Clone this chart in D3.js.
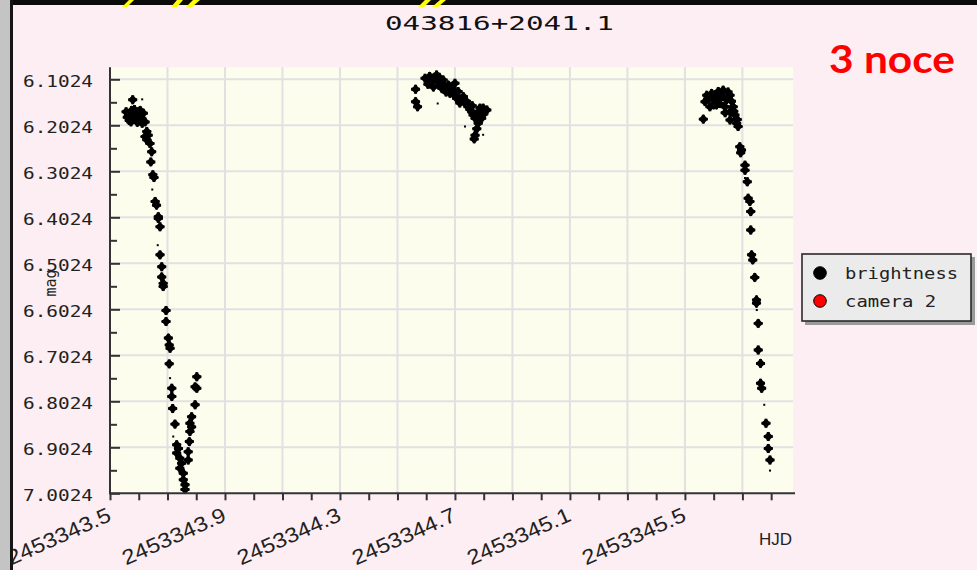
<!DOCTYPE html>
<html><head><meta charset="utf-8">
<script src="https://cdn.jsdelivr.net/npm/d3@7"></script>
<style>html,body{margin:0;padding:0;background:#fdeef3;overflow:hidden}</style>
</head><body><svg id="c" width="977" height="570"></svg>
<script>
// ---------- data ----------
const chartTitle = "043816+2041.1";
const slideNote = "3 noce";
const seriesNames = ["brightness", "camera 2"];
const seriesColors = ["#000000", "#ff0000"];
const xLabel = "HJD";
const yLabel = "mag";
const xTickLabels = ["2453343.5", "2453343.9", "2453344.3", "2453344.7", "2453345.1", "2453345.5"];
const yTickLabels = ["6.1024", "6.2024", "6.3024", "6.4024", "6.5024", "6.6024", "6.7024", "6.8024", "6.9024", "7.0024"];
const xDomain = [2453343.5, 2453345.876];
const yDomain = [6.0763, 7.0024];

// night 1 [HJD, mag]
const night1 = [[2453343.579,6.147],[2453343.564,6.180],[2453343.581,6.176],[2453343.598,6.173],[2453343.616,6.176],
[2453343.570,6.187],[2453343.593,6.187],[2453343.610,6.187],[2453343.587,6.182],[2453343.622,6.195],[2453343.556,6.173],
[2453343.604,6.193],[2453343.573,6.195],[2453343.560,6.185],[2453343.575,6.170],[2453343.585,6.168],[2453343.600,6.181],
[2453343.567,6.192],[2453343.590,6.175],[2453343.605,6.170],[2453343.612,6.198],[2453343.595,6.196],[2453343.580,6.190],
[2453343.628,6.216],[2453343.633,6.224],[2453343.622,6.227],[2453343.628,6.234],
[2453343.639,6.242],[2453343.645,6.260],[2453343.642,6.282],[2453343.649,6.310],[2453343.653,6.316],[2453343.657,6.368],
[2453343.662,6.376],[2453343.668,6.401],[2453343.668,6.405],[2453343.674,6.423],[2453343.674,6.484],[2453343.680,6.510],
[2453343.680,6.532],[2453343.685,6.546],[2453343.685,6.553],[2453343.695,6.605],[2453343.695,6.629],[2453343.703,6.665],
[2453343.706,6.680],[2453343.709,6.687],[2453343.706,6.721],[2453343.715,6.774],[2453343.715,6.792],[2453343.718,6.818],
[2453343.726,6.852],[2453343.732,6.897],[2453343.738,6.905],[2453343.732,6.915],[2453343.743,6.926],[2453343.749,6.937],
[2453343.743,6.948],[2453343.755,6.959],[2453343.755,6.973],[2453343.761,6.984],[2453343.761,6.994],[2453343.772,6.912],
[2453343.776,6.890],[2453343.778,6.868],[2453343.784,6.858],[2453343.778,6.850],[2453343.784,6.836],[2453343.796,6.810],
[2453343.802,6.774],[2453343.796,6.771],[2453343.802,6.749],[2453343.772,6.930]];
// night 2
const night2 = [[2453344.563,6.124],[2453344.563,6.151],[2453344.570,6.162],[2453344.636,6.093],[2453344.619,6.104],
[2453344.642,6.108],[2453344.659,6.104],[2453344.625,6.119],[2453344.654,6.122],[2453344.677,6.115],[2453344.700,6.111],
[2453344.683,6.133],[2453344.711,6.129],[2453344.729,6.140],[2453344.706,6.144],[2453344.735,6.155],[2453344.746,6.162],
[2453344.758,6.173],[2453344.787,6.165],[2453344.798,6.165],[2453344.770,6.187],[2453344.793,6.187],[2453344.781,6.198],
[2453344.770,6.224],[2453344.767,6.232],[2453344.596,6.100],[2453344.606,6.113],[2453344.669,6.130],[2453344.717,6.154],
[2453344.811,6.169],[2453344.630,6.098],[2453344.648,6.114],[2453344.664,6.118],[2453344.690,6.122],[2453344.695,6.135],
[2453344.722,6.145],[2453344.740,6.150],[2453344.752,6.168],[2453344.763,6.180],[2453344.775,6.178],[2453344.785,6.176],
[2453344.800,6.178],[2453344.776,6.210],[2453344.760,6.160],[2453344.612,6.096],[2453344.645,6.098]];
// night 3
const night3 = [[2453345.576,6.137],[2453345.593,6.133],[2453345.616,6.129],[2453345.633,6.126],[2453345.657,6.137],
[2453345.570,6.151],[2453345.598,6.147],[2453345.622,6.144],[2453345.645,6.147],[2453345.587,6.162],[2453345.610,6.158],
[2453345.639,6.162],[2453345.668,6.162],[2453345.657,6.173],[2453345.674,6.180],[2453345.564,6.189],[2453345.657,6.191],
[2453345.680,6.198],[2453345.685,6.205],[2453345.580,6.145],[2453345.605,6.138],[2453345.628,6.138],[2453345.650,6.130],
[2453345.662,6.150],[2453345.600,6.158],[2453345.620,6.155],[2453345.640,6.175],[2453345.670,6.172],[2453345.682,6.190],
[2453345.691,6.249],[2453345.697,6.256],[2453345.694,6.262],[2453345.709,6.289],
[2453345.709,6.300],[2453345.717,6.325],[2453345.720,6.361],[2453345.726,6.368],[2453345.729,6.390],[2453345.729,6.430],
[2453345.732,6.484],[2453345.736,6.495],[2453345.743,6.533],[2453345.749,6.582],[2453345.749,6.589],[2453345.755,6.633],
[2453345.755,6.691],[2453345.763,6.720],[2453345.763,6.763],[2453345.767,6.774],[2453345.782,6.850],[2453345.790,6.879],
[2453345.790,6.905],[2453345.796,6.930]];
// faint single measurements (small dots)
const faintDots = [[2453343.594,6.197],[2453343.612,6.146],[2453343.647,6.342],[2453343.666,6.463],[2453343.709,6.752],
[2453343.720,6.879],[2453344.640,6.155],[2453344.735,6.205],[2453344.798,6.223],[2453345.776,6.810],[2453345.796,6.953],
[2453345.750,6.604],[2453345.709,6.317]];

// ---------- layout ----------
const svg = d3.select("#c");
const W = 977, H = 570;
const plot = {left: 110, right: 793, top: 67.3, bottom: 493.3};
const x = d3.scaleLinear().domain(xDomain).range([plot.left, plot.right]);
const y = d3.scaleLinear().domain(yDomain).range([plot.top, plot.bottom]);

function stretchTo(sel, len) {
  sel.each(function () {
    this.setAttribute("textLength", len);
    this.setAttribute("lengthAdjust", "spacingAndGlyphs");
  });
}

svg.append("rect").attr("width", W).attr("height", H).attr("fill", "#fdeef3");

svg.append("rect").attr("x", plot.left).attr("y", plot.top)
  .attr("width", plot.right - plot.left).attr("height", plot.bottom - plot.top).attr("fill", "#fdfdee");

const xMajor = xTickLabels.map(Number);
const yMajor = yTickLabels.map(Number);
const xAll = d3.range(24).map(i => +(xDomain[0] + i * 0.1).toFixed(1));
const xGrid = d3.range(1, 12).map(i => +(xDomain[0] + i * 0.2).toFixed(1));
const yMinor = yMajor.slice(0, -1).map(v => +(v + 0.05).toFixed(4));

// gridlines
svg.append("g").selectAll("line").data(xGrid).join("line")
  .attr("x1", d => x(d)).attr("x2", d => x(d)).attr("y1", plot.top).attr("y2", plot.bottom)
  .attr("stroke", "#e1e1e1").attr("stroke-width", 2);
svg.append("g").selectAll("line").data(yMajor.slice(0, -1)).join("line")
  .attr("x1", plot.left).attr("x2", plot.right).attr("y1", d => y(d)).attr("y2", d => y(d))
  .attr("stroke", "#e1e1e1").attr("stroke-width", 2);

// points
const allBright = night1.concat(night2, night3);
svg.append("g").selectAll("path").data(allBright).join("path")
  .attr("d", d3.symbol().type(d3.symbolSquare).size(46))
  .attr("transform", d => `translate(${x(d[0])},${y(d[1])}) rotate(45)`)
  .attr("fill", seriesColors[0]);
svg.append("g").selectAll("path").data(allBright).join("path")
  .attr("d", d3.symbol().type(d3.symbolCross).size(44))
  .attr("transform", d => `translate(${x(d[0])},${y(d[1])})`)
  .attr("fill", seriesColors[0]);
svg.append("g").selectAll("rect").data(faintDots).join("rect")
  .attr("x", d => x(d[0]) - 1).attr("y", d => y(d[1]) - 1).attr("width", 2).attr("height", 2)
  .attr("fill", seriesColors[0]);

// y axis
const yAx = svg.append("g").attr("transform", `translate(${plot.left},0)`)
  .call(d3.axisLeft(y).tickValues(yMajor).tickSize(-10).tickPadding(17).tickFormat((d, i) => yTickLabels[i]));
yAx.select(".domain").remove();
yAx.selectAll("line").attr("stroke", "#333").attr("stroke-width", 2);
yAx.selectAll("text").attr("font-family", "DejaVu Sans Mono").attr("font-size", 15)
  .attr("fill", "#222").attr("dy", "0.47em");
stretchTo(yAx.selectAll("text"), 70);
const yAxMinor = svg.append("g").attr("transform", `translate(${plot.left},0)`)
  .call(d3.axisLeft(y).tickValues(yMinor).tickSize(-7).tickFormat(""));
yAxMinor.select(".domain").remove();
yAxMinor.selectAll("line").attr("stroke", "#333").attr("stroke-width", 2);

// x axis
const xAx = svg.append("g").attr("transform", `translate(0,${plot.bottom})`)
  .call(d3.axisBottom(x).tickValues(xAll).tickSize(7)
    .tickFormat(d => { const i = xMajor.findIndex(v => Math.abs(v - d) < 1e-6); return i >= 0 ? xTickLabels[i] : ""; }));
xAx.select(".domain").remove();
xAx.selectAll("line").attr("stroke", "#333").attr("stroke-width", 2);
xAx.selectAll("text")
  .attr("font-family", "Liberation Sans, Arial, sans-serif").attr("font-size", 21).attr("fill", "#222")
  .attr("x", 0).attr("y", 0).attr("dy", 0).attr("text-anchor", "end")
  .attr("transform", "translate(2,27) rotate(-24)");
stretchTo(xAx.selectAll("text").filter(function () { return this.textContent.length > 0; }), 111);

// axis lines
svg.append("line").attr("x1", plot.left).attr("x2", plot.left).attr("y1", plot.top).attr("y2", plot.bottom + 1)
  .attr("stroke", "#333").attr("stroke-width", 2);
svg.append("line").attr("x1", plot.left - 1).attr("x2", plot.right + 2).attr("y1", plot.bottom).attr("y2", plot.bottom)
  .attr("stroke", "#333").attr("stroke-width", 2);

// axis titles
svg.append("text").attr("x", 759).attr("y", 545).text(xLabel)
  .attr("font-family", "Liberation Sans, Arial, sans-serif").attr("font-size", 16).attr("fill", "#222")
  .call(s => stretchTo(s, 33));
svg.append("text").attr("transform", "translate(56,283) rotate(-90)").attr("text-anchor", "middle").text(yLabel)
  .attr("font-family", "DejaVu Sans Mono").attr("font-size", 15).attr("fill", "#222");

// title
svg.append("text").attr("x", 385).attr("y", 30).text(chartTitle)
  .attr("font-family", "DejaVu Sans Mono").attr("font-size", 20).attr("fill", "#111")
  .call(s => stretchTo(s, 229));

// slide note
svg.append("text").attr("x", 829).attr("y", 73).text(slideNote)
  .attr("font-family", "Lato, Open Sans, sans-serif").attr("font-weight", "bold").attr("font-size", 38)
  .attr("fill", "#ff0000").call(s => stretchTo(s, 126));

// legend
const lg = svg.append("g");
lg.append("rect").attr("x", 805).attr("y", 257).attr("width", 170).attr("height", 68).attr("fill", "#9a9a9a");
lg.append("rect").attr("x", 802).attr("y", 254).attr("width", 169).attr("height", 67)
  .attr("fill", "#ebebeb").attr("stroke", "#2a2a2a").attr("stroke-width", 1.6);
const legendY = [273, 301];
const legendLen = [113, 91];
seriesNames.forEach((n, i) => {
  lg.append("circle").attr("cx", 820).attr("cy", legendY[i]).attr("r", 6.3)
    .attr("fill", seriesColors[i]).attr("stroke", "#000").attr("stroke-width", 1);
  lg.append("text").attr("x", 845).attr("y", legendY[i] + 6).text(n)
    .attr("font-family", "DejaVu Sans Mono").attr("font-size", 16).attr("fill", "#222")
    .call(s => stretchTo(s, legendLen[i]));
});

// slide frame: top band with cut-off yellow heading, left gray strip
svg.append("rect").attr("x", 0).attr("y", 0).attr("width", W).attr("height", 5).attr("fill", "#0b0b0b");
const yellowStrokes = [
  [[129,0],[134,0],[127,7],[122,7]],
  [[177,0],[183,0],[177,7],[171,7]],
  [[193,0],[200,0],[192,7],[186,7]],
  [[425,0],[431,0],[424,7],[418,7]],
  [[440,0],[446,0],[438,7],[432,7]]
];
svg.append("g").selectAll("polygon").data(yellowStrokes).join("polygon")
  .attr("points", d => d.map(p => p.join(",")).join(" ")).attr("fill", "#ffff00");
svg.append("rect").attr("x", 0).attr("y", 0).attr("width", 10).attr("height", H).attr("fill", "#c4c4c4");
svg.append("rect").attr("x", 10).attr("y", 0).attr("width", 3).attr("height", H).attr("fill", "#151515");
</script>
</body></html>
